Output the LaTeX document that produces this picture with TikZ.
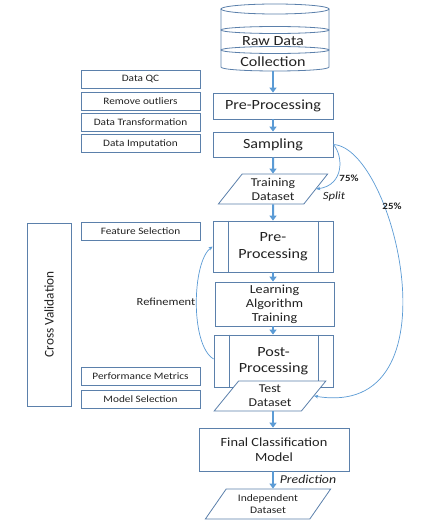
\documentclass[tikz,border=0pt]{standalone}
\usepackage{fontspec}
\setmainfont[FakeStretch=1.15]{Carlito}
\newfontfamily\cvfont{Carlito}
\usetikzlibrary{shapes.geometric,arrows.meta}
\definecolor{boxc}{HTML}{5B80AB}
\definecolor{arrc}{HTML}{5B9BD5}
\definecolor{txtc}{HTML}{222222}
\tikzset{
  box/.style={draw=boxc,line width=0.8pt,fill=white,text=txtc,align=center,inner sep=1pt},
  mainbox/.style={box,font=\fontsize{14}{16}\selectfont},
  sidebox/.style={box,minimum width=119pt,minimum height=18pt,font=\fontsize{9.8}{11}\selectfont},
  para/.style={box,trapezium,trapezium left angle=53.7,trapezium right angle=126.3,trapezium stretches=true,minimum height=30pt},
  flow/.style={draw=arrc,line width=2pt,-{Triangle[length=5pt,width=7pt]}},
  thin/.style={draw=arrc,line width=0.7pt,-{Stealth[length=4pt,width=3.5pt]}},
  lbl/.style={text=txtc,inner sep=0pt},
  innerline/.style={draw=boxc,line width=0.8pt}
}
\begin{document}
\begin{tikzpicture}[x=1pt,y=-1pt]
\useasboundingbox[fill=white] (0,0) rectangle (432,527);
% cylinder
\node (raw) at (275,40) [minimum width=108pt,minimum height=62pt,inner sep=0pt] {};
\draw[draw=boxc,line width=0.8pt,fill=white] (221,9) -- (221,67) .. controls (221,72.33) and (329,72.33) .. (329,67) -- (329,9);
\draw[draw=boxc,line width=0.8pt] (275,9) ellipse [x radius=54pt,y radius=5pt];
\draw[draw=boxc,line width=0.8pt] (275,30) ellipse [x radius=54pt,y radius=3.5pt];
\draw[draw=boxc,line width=0.8pt] (275,50) ellipse [x radius=54pt,y radius=3.5pt];
\node[lbl,font=\fontsize{14}{16}\selectfont] (rawt1) at (273,41) {Raw Data};
\node[lbl,font=\fontsize{14}{16}\selectfont] (rawt2) at (273,62) {Collection};
% main column
\node[mainbox,minimum width=120pt,minimum height=26pt] (pre1) at (273,106) {Pre-Processing};
\node[mainbox,minimum width=120pt,minimum height=25pt] (samp) at (273,144.5) {Sampling};
\node[para,minimum width=110pt,font=\fontsize{12}{14}\selectfont] (train) at (273,189) {Training\\Dataset};
\node[mainbox,minimum width=120pt,minimum height=51pt,font=\fontsize{14}{17}\selectfont] (pre2) at (273,246.5) {Pre-\\Processing};
\draw[innerline] ([xshift=16pt]pre2.north west) -- ([xshift=16pt]pre2.south west);
\draw[innerline] ([xshift=-15pt]pre2.north east) -- ([xshift=-15pt]pre2.south east);
\node[mainbox,minimum width=119pt,minimum height=44pt,font=\fontsize{12.3}{14}\selectfont] (learn) at (274.5,304) {Learning\\Algorithm\\Training};
\node[mainbox,minimum width=119pt,minimum height=52pt,font=\fontsize{14}{16.5}\selectfont] (post) at (273.5,361) {Post-\\Processing};
\draw[innerline] ([xshift=16pt]post.north west) -- ([xshift=16pt]post.south west);
\draw[innerline] ([xshift=-15pt]post.north east) -- ([xshift=-15pt]post.south east);
\node[para,minimum width=112pt,font=\fontsize{12}{14}\selectfont] (test) at (270,396) {Test\\Dataset};
\node[mainbox,minimum width=150pt,minimum height=43pt,font=\fontsize{12.5}{15}\selectfont] (final) at (274,449.5) {Final Classification\\Model};
\node[para,minimum width=126pt,font=\fontsize{10}{12}\selectfont] (indep) at (268,504) {Independent\\Dataset};
% side boxes
\node[sidebox] (qc) at (140.5,79) {Data QC};
\node[sidebox] (outl) at (140.5,101) {Remove outliers};
\node[sidebox] (trans) at (140.5,122.5) {Data Transformation};
\node[sidebox] (imput) at (140.5,143.5) {Data Imputation};
\node[sidebox] (feat) at (140.5,231) {Feature Selection};
\node[sidebox] (perf) at (140.5,376) {Performance Metrics};
\node[sidebox] (msel) at (140.5,399.5) {Model Selection};
\node[box,minimum width=44pt,minimum height=183pt] (cv) at (49,314.5) {};
\node[lbl,rotate=90,font=\cvfont\fontsize{13.3}{15}\selectfont] (cvt) at (cv.center) {Cross Validation};
% flow arrows
\draw[flow] (raw.south) ++(-2,0) coordinate (rs) -- (rs |- pre1.north);
\draw[flow] (pre1.south) -- (samp.north);
\draw[flow] (samp.south) -- (train.north);
\draw[flow] (train.south) -- (pre2.north);
\draw[flow] (pre2.south) -- (pre2.south |- learn.north);
\draw[flow] (learn.south -| pre2.south) -- (pre2.south |- post.north);
\draw[flow] (test.south -| final.north) ++(-1,0) coordinate (ts) -- (ts |- final.north);
\draw[flow] (final.south) ++(-1,0) coordinate (fs) -- (fs |- indep.north);
% curved arrows
\draw[thin] (samp.east) .. controls (343,155) and (345,185) .. (train.east);
\draw[thin] (samp.east) .. controls (395,148) and (460,420) .. (test.east);
\draw[thin] (post.west) ++(0,-2) .. controls (190,345) and (192,262) .. (pre2.west);
% labels
\node[lbl,font=\bfseries\fontsize{9.5}{11}\selectfont] (l75) at (349,178) {75\%};
\node[lbl,font=\itshape\fontsize{11}{13}\selectfont] (lsplit) at (334,197) {Split};
\node[lbl,font=\bfseries\fontsize{9.5}{11}\selectfont] (l25) at (392,206) {25\%};
\node[lbl,font=\fontsize{10.8}{13}\selectfont] (lref) at (166,302) {Refinement};
\node[lbl,font=\itshape\fontsize{12}{14}\selectfont] (lpred) at (308,479) {Prediction};
\end{tikzpicture}
\end{document}
